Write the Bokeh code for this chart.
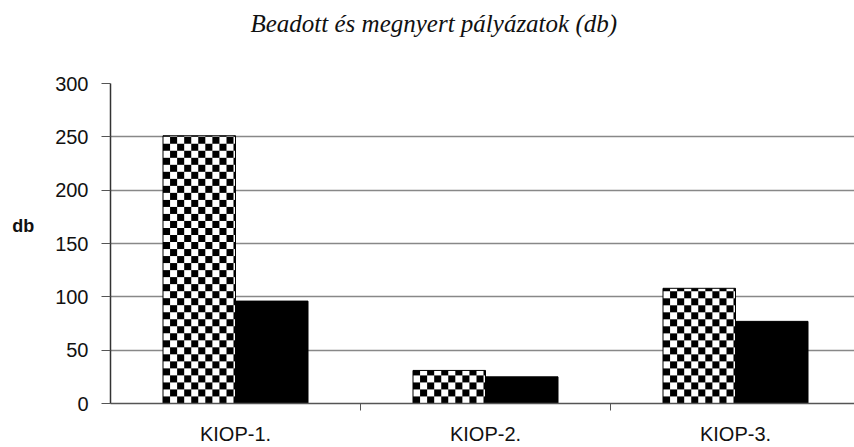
import numpy as np
from bokeh.plotting import figure
from bokeh.models import FixedTicker, Range1d, Title
from bokeh.embed import file_html
from bokeh.resources import INLINE

# ---- data ----
categories = ["KIOP-1.", "KIOP-2.", "KIOP-3."]
beadott = [251, 31, 108]
megnyert = [96, 25, 77]
y_ticks = [0, 50, 100, 150, 200, 250, 300]
title_text = "Beadott és megnyert pályázatok (db)"
y_label = "db"

SANS = "Liberation Sans"
SERIF = "Liberation Serif"

px_per_cat = 250.0
frame_w = 744
frame_h = 320
y_max = 300
x_end = frame_w / px_per_cat

p = figure(width=854, height=447, output_backend="svg", toolbar_location=None,
           x_range=Range1d(0, x_end), y_range=Range1d(0, y_max), title=None,
           min_border_left=110, min_border_right=0, min_border_top=83, min_border_bottom=44)
p.outline_line_color = None
p.background_fill_color = "white"

# spacer (nearest the frame) then the real title above it
p.add_layout(Title(text=" ", text_font_size="27px"), "above")
p.add_layout(Title(text=title_text, text_font=SERIF, text_font_size="25px", text_font_style="italic",
                   text_color="#111111", align="left", offset=140), "above")

centers = [i + 0.5 for i in range(len(categories))]
bw = 0.29
x1 = [c - bw / 2 for c in centers]
x2 = [c + bw / 2 for c in centers]


def checker(top, sq=7):
    cols = int(round(bw * px_per_cat))
    rows = max(1, int(round(top * frame_h / y_max)))
    jj, ii = np.meshgrid(np.arange(cols), np.arange(rows))
    black = ((ii // sq) + (jj // sq)) % 2 == 0
    return np.where(black, np.uint32(0xFF000000), np.uint32(0xFFFFFFFF)).astype(np.uint32)


imgs = [checker(t) for t in beadott]
p.image_rgba(image=imgs, x=[c - bw / 2 for c in x1], y=[0] * len(x1), dw=[bw] * len(x1), dh=beadott)
p.vbar(x=x1, top=beadott, width=bw, bottom=0, fill_color=None, line_color="black", line_width=1)
p.vbar(x=x2, top=megnyert, width=bw, bottom=0, fill_color="black", line_color="black", line_width=1)

# axes
xa = p.xaxis[0]
xa.ticker = FixedTicker(ticks=centers, minor_ticks=[i + 1 for i in range(len(categories))])
xa.major_label_overrides = {c: cat for c, cat in zip(centers, categories)}
xa.major_tick_out = 0
xa.major_tick_in = 0
xa.minor_tick_out = 7
xa.minor_tick_in = 0
xa.minor_tick_line_color = "#555555"
xa.axis_line_color = "#555555"
xa.axis_line_width = 1.5
xa.major_label_text_font = SANS
xa.major_label_text_font_size = "20px"
xa.major_label_text_color = "#111111"
xa.major_label_standoff = 12

ya = p.yaxis[0]
ya.ticker = FixedTicker(ticks=y_ticks)
ya.major_tick_out = 9
ya.major_tick_in = 0
ya.minor_tick_out = 0
ya.minor_tick_line_color = None
ya.major_tick_line_color = "#555555"
ya.axis_line_color = "#333333"
ya.axis_line_width = 1.5
ya.major_label_text_font = SANS
ya.major_label_text_font_size = "20px"
ya.major_label_text_color = "#111111"
ya.major_label_standoff = 13
ya.axis_label = y_label + "\n"
ya.axis_label_text_font = SANS
ya.axis_label_text_font_size = "18px"
ya.axis_label_text_font_style = "bold"
ya.axis_label_text_color = "#111111"
ya.axis_label_text_line_height = 1.8
ya.axis_label_standoff = 18
ya.axis_label_orientation = "horizontal"

p.xgrid.grid_line_color = None
p.ygrid.grid_line_color = "#888888"
p.ygrid.grid_line_width = 1.5

open("out.html", "w").write(file_html(p, INLINE))
